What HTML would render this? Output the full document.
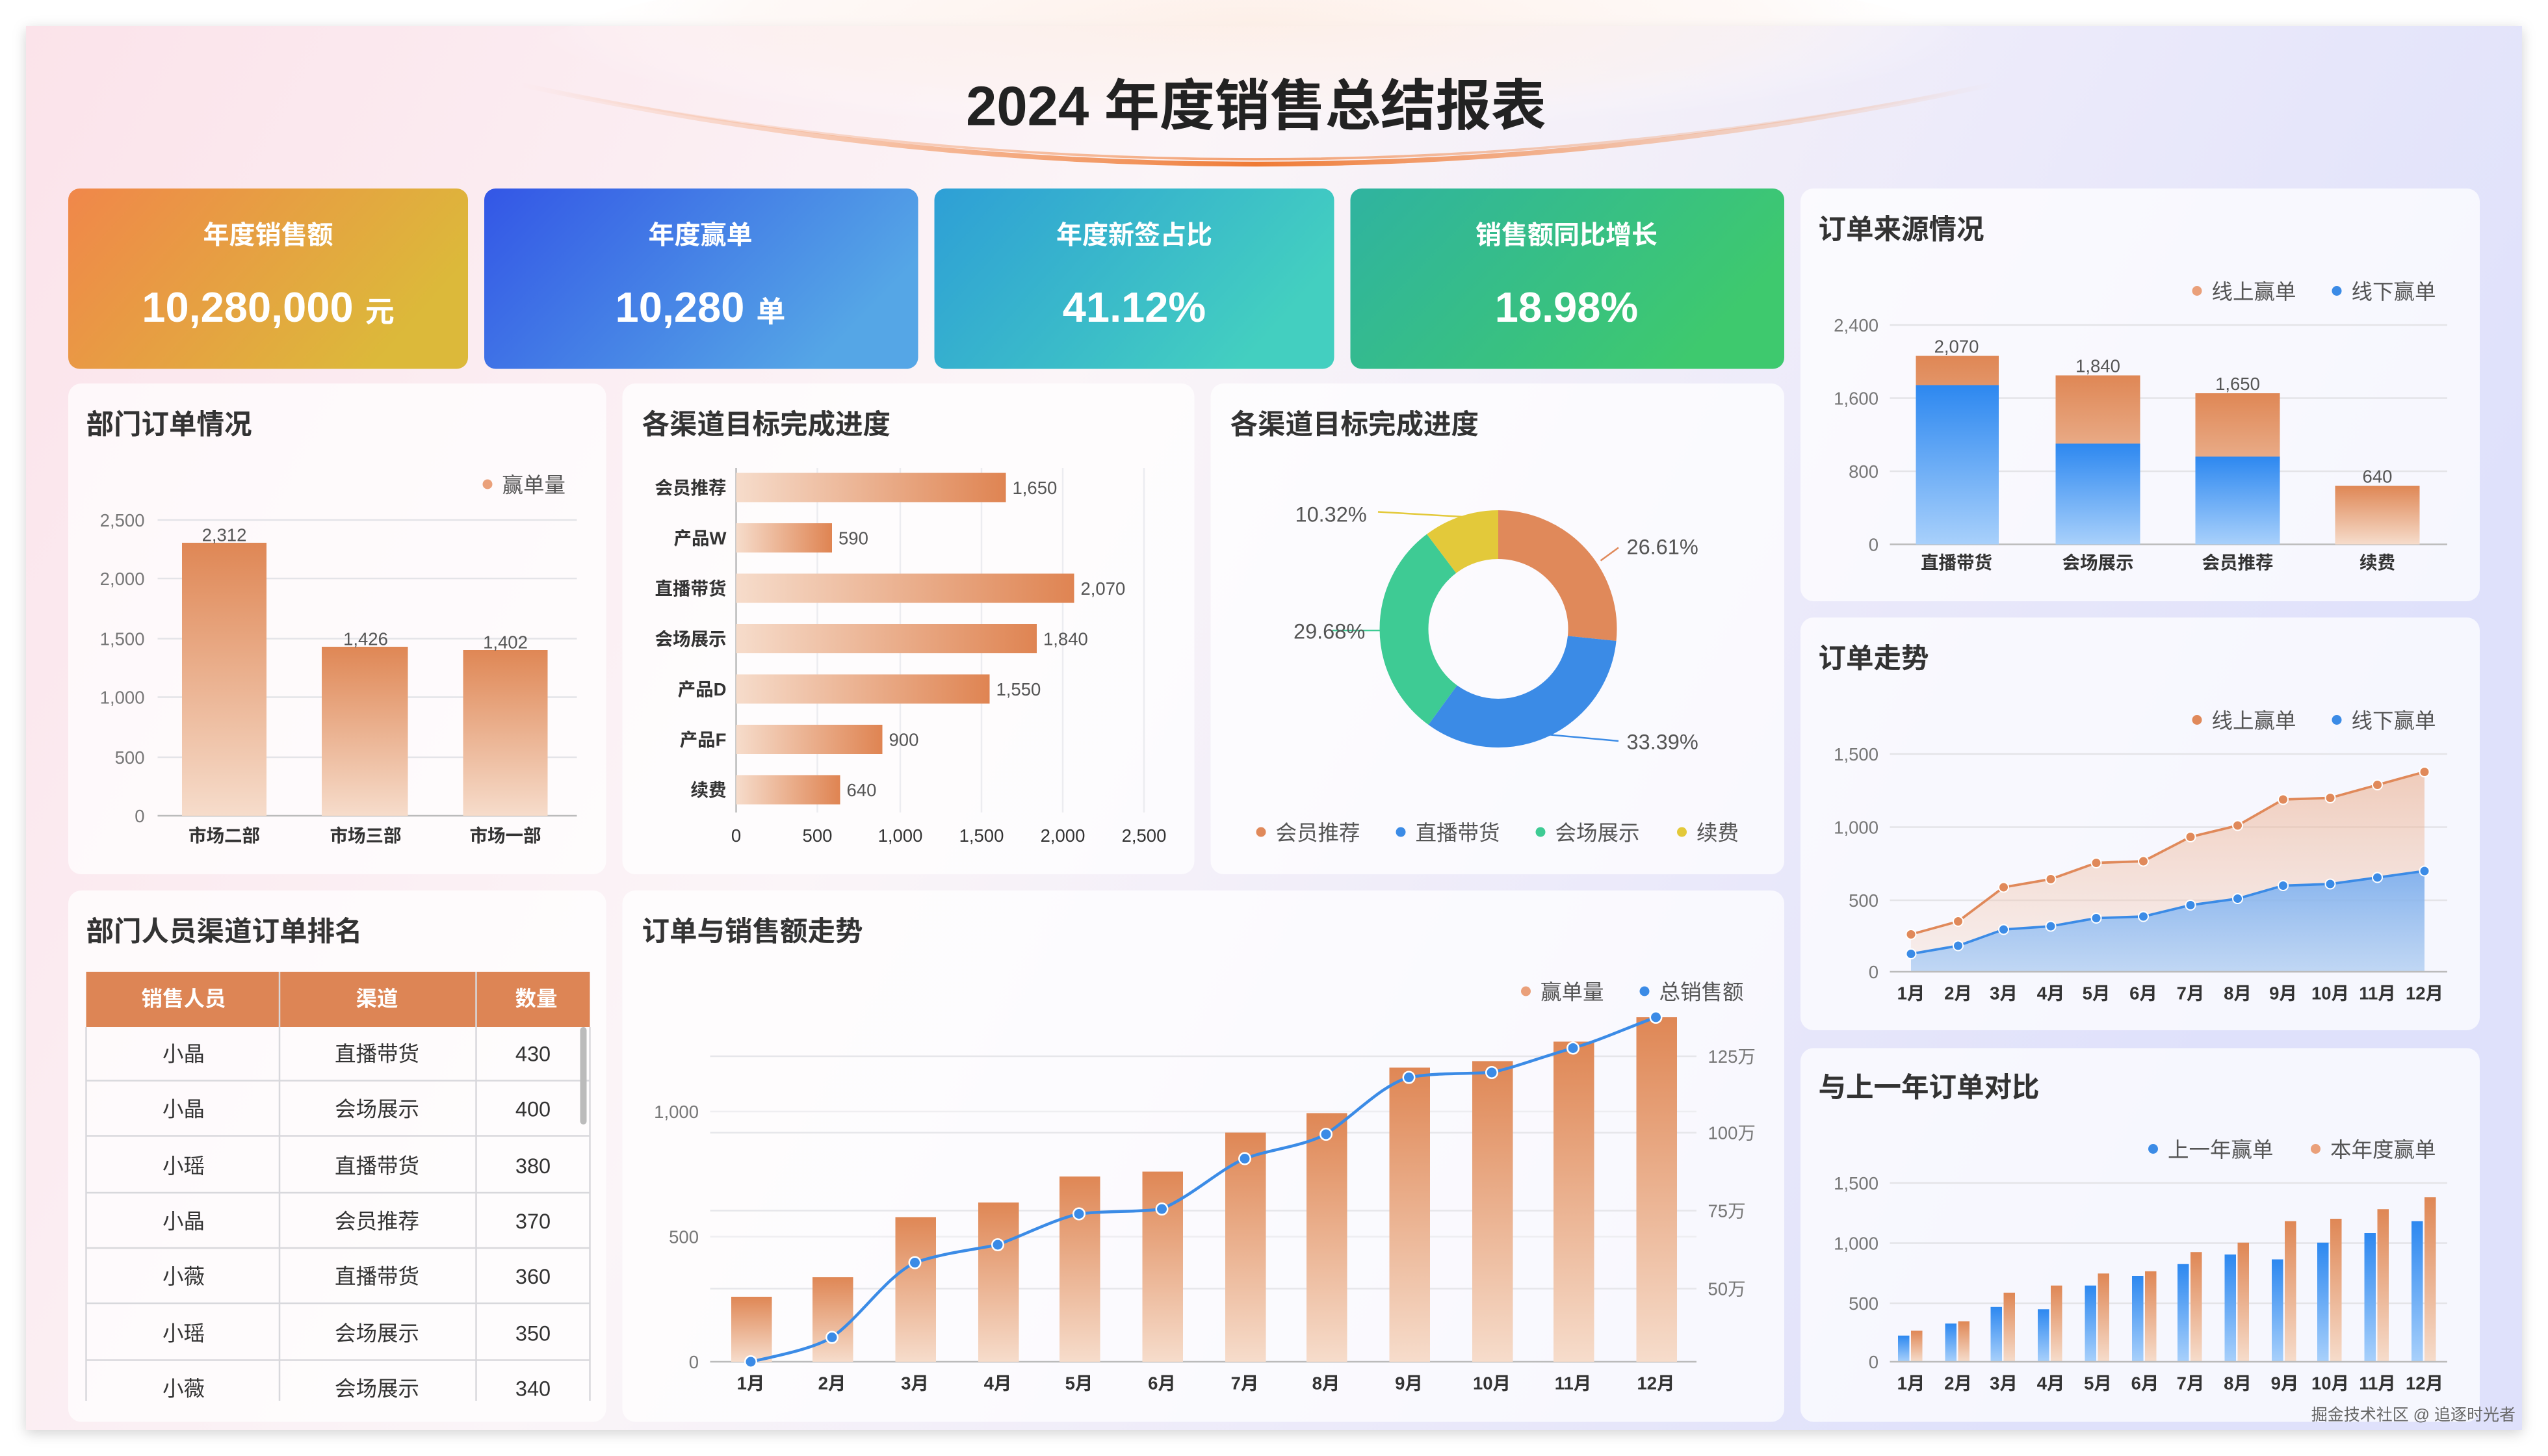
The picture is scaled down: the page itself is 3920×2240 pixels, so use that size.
<!DOCTYPE html>
<html><head><meta charset="utf-8"><style>
html,body{margin:0;padding:0;background:#fff;}
svg{display:block;}
text{font-family:"Liberation Sans","Noto Sans CJK SC",sans-serif;}
</style></head><body>
<svg width="3920" height="2240" viewBox="0 0 1568 896" xmlns="http://www.w3.org/2000/svg">
<defs>
<linearGradient id="bg" x1="0" y1="0" x2="1" y2="0.3">
<stop offset="0" stop-color="#fbe3ea"/><stop offset="0.45" stop-color="#fbf5f8"/><stop offset="1" stop-color="#dfe1fb"/></linearGradient>
<radialGradient id="glow" cx="0.5" cy="0.3" r="0.5"><stop offset="0" stop-color="#fdeee6" stop-opacity="0.9"/><stop offset="0.7" stop-color="#fdf3ef" stop-opacity="0.5"/><stop offset="1" stop-color="#fff" stop-opacity="0"/></radialGradient>
<linearGradient id="arc" x1="0" x2="1"><stop offset="0" stop-color="#f3a06a" stop-opacity="0"/><stop offset="0.5" stop-color="#ef7a35"/><stop offset="1" stop-color="#f3a06a" stop-opacity="0"/></linearGradient>
<linearGradient id="k1" x1="0" y1="0" x2="1" y2="0.4"><stop offset="0" stop-color="#f0874a"/><stop offset="1" stop-color="#dcb93a"/></linearGradient>
<linearGradient id="k2" x1="0" y1="0" x2="1" y2="0.4"><stop offset="0" stop-color="#3356e6"/><stop offset="1" stop-color="#55a6e6"/></linearGradient>
<linearGradient id="k3" x1="0" y1="0" x2="1" y2="0.4"><stop offset="0" stop-color="#2e9fd6"/><stop offset="1" stop-color="#43cfc0"/></linearGradient>
<linearGradient id="k4" x1="0" y1="0" x2="1" y2="0.4"><stop offset="0" stop-color="#2fb3a0"/><stop offset="1" stop-color="#3ec96e"/></linearGradient>
<linearGradient id="ob" x1="0" y1="0" x2="0" y2="1"><stop offset="0" stop-color="#df8755"/><stop offset="1" stop-color="#f6dccb"/></linearGradient>
<linearGradient id="bb" x1="0" y1="0" x2="0" y2="1"><stop offset="0" stop-color="#2d88f0"/><stop offset="1" stop-color="#a8d0fb"/></linearGradient>
<linearGradient id="hb" x1="0" y1="0" x2="1" y2="0"><stop offset="0" stop-color="#f6dccb"/><stop offset="1" stop-color="#df8452"/></linearGradient>
<linearGradient id="oa" x1="0" y1="0" x2="0" y2="1"><stop offset="0" stop-color="#eaa884" stop-opacity="0.55"/><stop offset="1" stop-color="#f5d6c5" stop-opacity="0.3"/></linearGradient>
<linearGradient id="ba" x1="0" y1="0" x2="0" y2="1"><stop offset="0" stop-color="#6aa8f3" stop-opacity="0.8"/><stop offset="1" stop-color="#a9cdf7" stop-opacity="0.7"/></linearGradient>
<filter id="sh" x="-5%" y="-5%" width="110%" height="110%"><feDropShadow dx="0" dy="2" stdDeviation="4" flood-color="#000" flood-opacity="0.18"/></filter>
</defs>
<rect x="16" y="16" width="1536" height="864" fill="url(#bg)" filter="url(#sh)"/>
<ellipse cx="773" cy="40" rx="450" ry="70" fill="url(#glow)"/>
<path d="M320 52 Q773 150 1226 52" fill="none" stroke="url(#arc)" stroke-width="3"/>
<path d="M340 56 Q773 140 1206 56" fill="none" stroke="url(#arc)" stroke-width="1.5" opacity="0.7"/>
<text x="773" y="77" font-size="34" font-weight="bold" text-anchor="middle" fill="#222">2024 年度销售总结报表</text>

<!-- KPI -->
<g fill="#fff" text-anchor="middle">
<rect x="42" y="116" width="246" height="111" rx="7" fill="url(#k1)"/>
<rect x="298" y="116" width="267" height="111" rx="7" fill="url(#k2)"/>
<rect x="575" y="116" width="246" height="111" rx="7" fill="url(#k3)"/>
<rect x="831" y="116" width="267" height="111" rx="7" fill="url(#k4)"/>
<text x="165" y="150" font-size="16" font-weight="bold">年度销售额</text>
<text x="165" y="198" font-size="26" font-weight="bold">10,280,000 <tspan font-size="18">元</tspan></text>
<text x="431" y="150" font-size="16" font-weight="bold">年度赢单</text>
<text x="431" y="198" font-size="26" font-weight="bold">10,280 <tspan font-size="18">单</tspan></text>
<text x="698" y="150" font-size="16" font-weight="bold">年度新签占比</text>
<text x="698" y="198" font-size="26" font-weight="bold">41.12%</text>
<text x="964" y="150" font-size="16" font-weight="bold">销售额同比增长</text>
<text x="964" y="198" font-size="26" font-weight="bold">18.98%</text>
</g>

<!-- panels -->
<g fill="#fff" fill-opacity="0.72">
<rect x="42" y="236" width="331" height="302" rx="8"/>
<rect x="383" y="236" width="352" height="302" rx="8"/>
<rect x="745" y="236" width="353" height="302" rx="8"/>
<rect x="42" y="548" width="331" height="327" rx="8"/>
<rect x="383" y="548" width="715" height="327" rx="8"/>
<rect x="1108" y="116" width="418" height="254" rx="8"/>
<rect x="1108" y="380" width="418" height="254" rx="8"/>
<rect x="1108" y="645" width="418" height="230" rx="8"/>
</g>
<g font-size="17" font-weight="bold" fill="#333">
<text x="53" y="267">部门订单情况</text>
<text x="395" y="267">各渠道目标完成进度</text>
<text x="757" y="267">各渠道目标完成进度</text>
<text x="53" y="579">部门人员渠道订单排名</text>
<text x="395" y="579">订单与销售额走势</text>
<text x="1119" y="147">订单来源情况</text>
<text x="1119" y="411">订单走势</text>
<text x="1119" y="675">与上一年订单对比</text>
</g>

<!-- Panel 部门订单 -->
<g font-size="11" fill="#777" text-anchor="end">
<text x="89" y="324">2,500</text><text x="89" y="360">2,000</text><text x="89" y="397">1,500</text><text x="89" y="433">1,000</text><text x="89" y="470">500</text><text x="89" y="506">0</text></g>
<g stroke="#e4e4e8" stroke-width="1"><line x1="97" y1="320" x2="355" y2="320"/><line x1="97" y1="356" x2="355" y2="356"/><line x1="97" y1="393" x2="355" y2="393"/><line x1="97" y1="429" x2="355" y2="429"/><line x1="97" y1="466" x2="355" y2="466"/></g>
<line x1="97" y1="502" x2="355" y2="502" stroke="#bbb"/>
<rect x="112" y="334" width="52" height="168" fill="url(#ob)"/>
<rect x="198" y="398" width="53" height="104" fill="url(#ob)"/>
<rect x="285" y="400" width="52" height="102" fill="url(#ob)"/>
<g font-size="11" fill="#555" text-anchor="middle"><text x="138" y="333">2,312</text><text x="225" y="397">1,426</text><text x="311" y="399">1,402</text></g>
<g font-size="11" fill="#333" text-anchor="middle" font-weight="bold"><text x="138" y="518">市场二部</text><text x="225" y="518">市场三部</text><text x="311" y="518">市场一部</text></g>
<circle cx="300" cy="298" r="3" fill="#eaa07a"/><text x="309" y="303" font-size="13" fill="#555">赢单量</text>

<!-- hbar -->
<g font-size="11" fill="#333" text-anchor="end" font-weight="bold">
<text x="447" y="304">会员推荐</text><text x="447" y="335">产品W</text><text x="447" y="366">直播带货</text><text x="447" y="397">会场展示</text><text x="447" y="428">产品D</text><text x="447" y="459">产品F</text><text x="447" y="490">续费</text></g>
<g stroke="#ececf0"><line x1="503" y1="288" x2="503" y2="500"/><line x1="554" y1="288" x2="554" y2="500"/><line x1="604" y1="288" x2="604" y2="500"/><line x1="654" y1="288" x2="654" y2="500"/><line x1="704" y1="288" x2="704" y2="500"/></g>
<line x1="453" y1="288" x2="453" y2="500" stroke="#bbb"/>
<g fill="url(#hb)">
<rect x="453" y="291" width="166" height="18"/><rect x="453" y="322" width="59" height="18"/><rect x="453" y="353" width="208" height="18"/><rect x="453" y="384" width="185" height="18"/><rect x="453" y="415" width="156" height="18"/><rect x="453" y="446" width="90" height="18"/><rect x="453" y="477" width="64" height="18"/></g>
<g font-size="11" fill="#555"><text x="623" y="304">1,650</text><text x="516" y="335">590</text><text x="665" y="366">2,070</text><text x="642" y="397">1,840</text><text x="613" y="428">1,550</text><text x="547" y="459">900</text><text x="521" y="490">640</text></g>
<g font-size="11" fill="#333" text-anchor="middle"><text x="453" y="518">0</text><text x="503" y="518">500</text><text x="554" y="518">1,000</text><text x="604" y="518">1,500</text><text x="654" y="518">2,000</text><text x="704" y="518">2,500</text></g>

<!-- donut -->
<g transform="rotate(-90 922 387)" fill="none" stroke-width="30">
<circle cx="922" cy="387" r="58" stroke="#e0895a" stroke-dasharray="96.97 400"/>
<circle cx="922" cy="387" r="58" stroke="#3b8be6" stroke-dasharray="121.68 400" stroke-dashoffset="-96.97"/>
<circle cx="922" cy="387" r="58" stroke="#3ecb94" stroke-dasharray="108.16 400" stroke-dashoffset="-218.65"/>
<circle cx="922" cy="387" r="58" stroke="#e3c93a" stroke-dasharray="37.61 400" stroke-dashoffset="-326.81"/>
</g>
<g fill="none" stroke-width="1">
<polyline points="985,345 996,337" stroke="#e0895a"/>
<polyline points="952,452 996,456" stroke="#3b8be6"/>
<polyline points="852,388 820,388" stroke="#3ecb94"/>
<polyline points="900,318 848,315" stroke="#e3c93a"/>
</g>
<g font-size="13" fill="#555"><text x="1001" y="341">26.61%</text><text x="1001" y="461">33.39%</text><text x="796" y="393">29.68%</text><text x="797" y="321">10.32%</text></g>
<g font-size="13" fill="#555">
<circle cx="776" cy="512" r="3" fill="#e0895a"/><text x="785" y="517">会员推荐</text>
<circle cx="862" cy="512" r="3" fill="#3b8be6"/><text x="871" y="517">直播带货</text>
<circle cx="948" cy="512" r="3" fill="#3ecb94"/><text x="957" y="517">会场展示</text>
<circle cx="1035" cy="512" r="3" fill="#e3c93a"/><text x="1044" y="517">续费</text></g>

<!-- table -->
<rect x="53" y="598" width="310" height="34" fill="#dd8555"/>
<g font-size="13" fill="#fff" font-weight="bold" text-anchor="middle"><text x="113" y="619">销售人员</text><text x="232" y="619">渠道</text><text x="330" y="619">数量</text></g>
<g stroke="#d8d8dc"><line x1="172" y1="598" x2="172" y2="862"/><line x1="293" y1="598" x2="293" y2="862"/><line x1="53" y1="632" x2="53" y2="862"/><line x1="363" y1="632" x2="363" y2="862"/>
<line x1="53" y1="665" x2="363" y2="665"/><line x1="53" y1="699" x2="363" y2="699"/><line x1="53" y1="734" x2="363" y2="734"/><line x1="53" y1="768" x2="363" y2="768"/><line x1="53" y1="802" x2="363" y2="802"/><line x1="53" y1="837" x2="363" y2="837"/></g>
<rect x="357" y="632" width="4" height="60" rx="2" fill="#bbb"/>
<g font-size="13" fill="#333" text-anchor="middle">
<text x="113" y="653">小晶</text><text x="232" y="653">直播带货</text><text x="328" y="653">430</text>
<text x="113" y="687">小晶</text><text x="232" y="687">会场展示</text><text x="328" y="687">400</text>
<text x="113" y="722">小瑶</text><text x="232" y="722">直播带货</text><text x="328" y="722">380</text>
<text x="113" y="756">小晶</text><text x="232" y="756">会员推荐</text><text x="328" y="756">370</text>
<text x="113" y="790">小薇</text><text x="232" y="790">直播带货</text><text x="328" y="790">360</text>
<text x="113" y="825">小瑶</text><text x="232" y="825">会场展示</text><text x="328" y="825">350</text>
<text x="113" y="859">小薇</text><text x="232" y="859">会场展示</text><text x="328" y="859">340</text></g>

<!-- combo -->
<g stroke="#e6e6ea"><line x1="437" y1="650" x2="1044" y2="650"/><line x1="437" y1="697" x2="1044" y2="697"/><line x1="437" y1="745" x2="1044" y2="745"/><line x1="437" y1="793" x2="1044" y2="793"/><line x1="437" y1="684" x2="1044" y2="684" opacity="0.6"/><line x1="437" y1="761" x2="1044" y2="761" opacity="0.6"/></g>
<line x1="437" y1="838" x2="1044" y2="838" stroke="#bbb"/>
<g font-size="11" fill="#777"><text x="430" y="688" text-anchor="end">1,000</text><text x="430" y="765" text-anchor="end">500</text><text x="430" y="842" text-anchor="end">0</text>
<text x="1051" y="654">125万</text><text x="1051" y="701">100万</text><text x="1051" y="749">75万</text><text x="1051" y="797">50万</text></g>
<g fill="url(#ob)">
<rect x="450" y="798" width="25" height="40"/><rect x="500" y="786" width="25" height="52"/><rect x="551" y="749" width="25" height="89"/><rect x="602" y="740" width="25" height="98"/><rect x="652" y="724" width="25" height="114"/><rect x="703" y="721" width="25" height="117"/><rect x="754" y="697" width="25" height="141"/><rect x="804" y="685" width="25" height="153"/><rect x="855" y="657" width="25" height="181"/><rect x="906" y="653" width="25" height="185"/><rect x="956" y="641" width="25" height="197"/><rect x="1007" y="626" width="25" height="212"/></g>
<path d="M462 838 C480 834 500 830 512 823 C530 810 545 786 563 777 C580 771 600 769 614 766 C630 760 650 750 664 747 C680 745 700 746 715 744 C735 735 750 720 766 713 C782 707 800 706 816 698 C835 685 850 668 867 663 C885 660 900 661 918 660 C935 656 950 650 968 645 C985 640 1000 633 1019 626" fill="none" stroke="#3b8be6" stroke-width="1.8"/>
<g fill="#3b8be6" stroke="#fff" stroke-width="1">
<circle cx="462" cy="838" r="3.5"/><circle cx="512" cy="823" r="3.5"/><circle cx="563" cy="777" r="3.5"/><circle cx="614" cy="766" r="3.5"/><circle cx="664" cy="747" r="3.5"/><circle cx="715" cy="744" r="3.5"/><circle cx="766" cy="713" r="3.5"/><circle cx="816" cy="698" r="3.5"/><circle cx="867" cy="663" r="3.5"/><circle cx="918" cy="660" r="3.5"/><circle cx="968" cy="645" r="3.5"/><circle cx="1019" cy="626" r="3.5"/></g>
<g font-size="11" fill="#333" text-anchor="middle" font-weight="bold"><text x="462" y="855">1月</text><text x="512" y="855">2月</text><text x="563" y="855">3月</text><text x="614" y="855">4月</text><text x="664" y="855">5月</text><text x="715" y="855">6月</text><text x="766" y="855">7月</text><text x="816" y="855">8月</text><text x="867" y="855">9月</text><text x="918" y="855">10月</text><text x="968" y="855">11月</text><text x="1019" y="855">12月</text></g>
<circle cx="939" cy="610" r="3" fill="#eaa07a"/><text x="948" y="615" font-size="13" fill="#555">赢单量</text>
<circle cx="1012" cy="610" r="3" fill="#3b8be6"/><text x="1021" y="615" font-size="13" fill="#555">总销售额</text>

<!-- right 1 stacked -->
<g stroke="#e4e4e8"><line x1="1163" y1="200" x2="1506" y2="200"/><line x1="1163" y1="245" x2="1506" y2="245"/><line x1="1163" y1="290" x2="1506" y2="290"/></g>
<line x1="1163" y1="335" x2="1506" y2="335" stroke="#bbb"/>
<g font-size="11" fill="#777" text-anchor="end"><text x="1156" y="204">2,400</text><text x="1156" y="249">1,600</text><text x="1156" y="294">800</text><text x="1156" y="339">0</text></g>
<rect x="1179" y="219" width="51" height="116" fill="url(#ob)"/><rect x="1179" y="237" width="51" height="98" fill="url(#bb)"/>
<rect x="1265" y="231" width="52" height="104" fill="url(#ob)"/><rect x="1265" y="273" width="52" height="62" fill="url(#bb)"/>
<rect x="1351" y="242" width="52" height="93" fill="url(#ob)"/><rect x="1351" y="281" width="52" height="54" fill="url(#bb)"/>
<rect x="1437" y="299" width="52" height="36" fill="url(#ob)"/>
<g font-size="11" fill="#555" text-anchor="middle"><text x="1204" y="217">2,070</text><text x="1291" y="229">1,840</text><text x="1377" y="240">1,650</text><text x="1463" y="297">640</text></g>
<g font-size="11" fill="#333" text-anchor="middle" font-weight="bold"><text x="1204" y="350">直播带货</text><text x="1291" y="350">会场展示</text><text x="1377" y="350">会员推荐</text><text x="1463" y="350">续费</text></g>
<circle cx="1352" cy="179" r="3" fill="#eaa07a"/><text x="1361" y="184" font-size="13" fill="#555">线上赢单</text>
<circle cx="1438" cy="179" r="3" fill="#3b8be6"/><text x="1447" y="184" font-size="13" fill="#555">线下赢单</text>

<!-- right 2 area -->
<g stroke="#e4e4e8"><line x1="1163" y1="464" x2="1506" y2="464"/><line x1="1163" y1="509" x2="1506" y2="509"/><line x1="1163" y1="554" x2="1506" y2="554"/></g>
<g font-size="11" fill="#777" text-anchor="end"><text x="1156" y="468">1,500</text><text x="1156" y="513">1,000</text><text x="1156" y="558">500</text><text x="1156" y="602">0</text></g>
<path d="M1176 575 L1205 567 L1233 546 L1262 541 L1290 531 L1319 530 L1348 515 L1377 508 L1405 492 L1434 491 L1463 483 L1492 475 L1492 598 L1176 598Z" fill="url(#oa)"/>
<path d="M1176 587 L1205 582 L1233 572 L1262 570 L1290 565 L1319 564 L1348 557 L1377 553 L1405 545 L1434 544 L1463 540 L1492 536 L1492 598 L1176 598Z" fill="url(#ba)"/>
<polyline points="1176,575 1205,567 1233,546 1262,541 1290,531 1319,530 1348,515 1377,508 1405,492 1434,491 1463,483 1492,475" fill="none" stroke="#e0895a" stroke-width="1.5"/>
<polyline points="1176,587 1205,582 1233,572 1262,570 1290,565 1319,564 1348,557 1377,553 1405,545 1434,544 1463,540 1492,536" fill="none" stroke="#3b8be6" stroke-width="1.5"/>
<g fill="#e0895a" stroke="#fff" stroke-width="0.8"><circle cx="1176" cy="575" r="3"/><circle cx="1205" cy="567" r="3"/><circle cx="1233" cy="546" r="3"/><circle cx="1262" cy="541" r="3"/><circle cx="1290" cy="531" r="3"/><circle cx="1319" cy="530" r="3"/><circle cx="1348" cy="515" r="3"/><circle cx="1377" cy="508" r="3"/><circle cx="1405" cy="492" r="3"/><circle cx="1434" cy="491" r="3"/><circle cx="1463" cy="483" r="3"/><circle cx="1492" cy="475" r="3"/></g>
<g fill="#3b8be6" stroke="#fff" stroke-width="0.8"><circle cx="1176" cy="587" r="3"/><circle cx="1205" cy="582" r="3"/><circle cx="1233" cy="572" r="3"/><circle cx="1262" cy="570" r="3"/><circle cx="1290" cy="565" r="3"/><circle cx="1319" cy="564" r="3"/><circle cx="1348" cy="557" r="3"/><circle cx="1377" cy="553" r="3"/><circle cx="1405" cy="545" r="3"/><circle cx="1434" cy="544" r="3"/><circle cx="1463" cy="540" r="3"/><circle cx="1492" cy="536" r="3"/></g>
<line x1="1163" y1="598" x2="1506" y2="598" stroke="#bbb"/>
<g font-size="11" fill="#333" text-anchor="middle" font-weight="bold"><text x="1176" y="615">1月</text><text x="1205" y="615">2月</text><text x="1233" y="615">3月</text><text x="1262" y="615">4月</text><text x="1290" y="615">5月</text><text x="1319" y="615">6月</text><text x="1348" y="615">7月</text><text x="1377" y="615">8月</text><text x="1405" y="615">9月</text><text x="1434" y="615">10月</text><text x="1463" y="615">11月</text><text x="1492" y="615">12月</text></g>
<circle cx="1352" cy="443" r="3" fill="#e0895a"/><text x="1361" y="448" font-size="13" fill="#555">线上赢单</text>
<circle cx="1438" cy="443" r="3" fill="#3b8be6"/><text x="1447" y="448" font-size="13" fill="#555">线下赢单</text>

<!-- right 3 grouped -->
<g stroke="#e4e4e8"><line x1="1163" y1="728" x2="1506" y2="728"/><line x1="1163" y1="765" x2="1506" y2="765"/><line x1="1163" y1="802" x2="1506" y2="802"/></g>
<g font-size="11" fill="#777" text-anchor="end"><text x="1156" y="732">1,500</text><text x="1156" y="769">1,000</text><text x="1156" y="806">500</text><text x="1156" y="842">0</text></g>
<g fill="url(#bb)">
<rect x="1168" y="821.9" width="7" height="16.1"/><rect x="1197" y="814.5" width="7" height="23.5"/><rect x="1225" y="804.3" width="7" height="33.7"/><rect x="1254" y="805.7" width="7" height="32.3"/><rect x="1283" y="791.1" width="7" height="46.9"/><rect x="1312" y="785.2" width="7" height="52.8"/><rect x="1340" y="777.9" width="7" height="60.1"/><rect x="1369" y="772" width="7" height="66"/><rect x="1398" y="775" width="7" height="63"/><rect x="1426" y="764.7" width="7" height="73.3"/><rect x="1455" y="758.8" width="7" height="79.2"/><rect x="1484" y="751.5" width="7" height="86.5"/></g>
<g fill="url(#ob)">
<rect x="1176" y="818.9" width="7" height="19.1"/><rect x="1205" y="813.1" width="7" height="24.9"/><rect x="1233" y="795.5" width="7" height="42.5"/><rect x="1262" y="791.1" width="7" height="46.9"/><rect x="1291" y="783.7" width="7" height="54.3"/><rect x="1320" y="782.3" width="7" height="55.7"/><rect x="1348" y="770.5" width="7" height="67.5"/><rect x="1377" y="764.7" width="7" height="73.3"/><rect x="1406" y="751.5" width="7" height="86.5"/><rect x="1434" y="750" width="7" height="88"/><rect x="1463" y="744.1" width="7" height="93.9"/><rect x="1492" y="736.8" width="7" height="101.2"/></g>
<line x1="1163" y1="838" x2="1506" y2="838" stroke="#bbb"/>
<g font-size="11" fill="#333" text-anchor="middle" font-weight="bold"><text x="1176" y="855">1月</text><text x="1205" y="855">2月</text><text x="1233" y="855">3月</text><text x="1262" y="855">4月</text><text x="1291" y="855">5月</text><text x="1320" y="855">6月</text><text x="1348" y="855">7月</text><text x="1377" y="855">8月</text><text x="1406" y="855">9月</text><text x="1434" y="855">10月</text><text x="1463" y="855">11月</text><text x="1492" y="855">12月</text></g>
<circle cx="1325" cy="707" r="3" fill="#3b8be6"/><text x="1334" y="712" font-size="13" fill="#555">上一年赢单</text>
<circle cx="1425" cy="707" r="3" fill="#eaa07a"/><text x="1434" y="712" font-size="13" fill="#555">本年度赢单</text>
<text x="1548" y="874" font-size="10" fill="#666" text-anchor="end">掘金技术社区 @ 追逐时光者</text>
</svg>
</body></html>
